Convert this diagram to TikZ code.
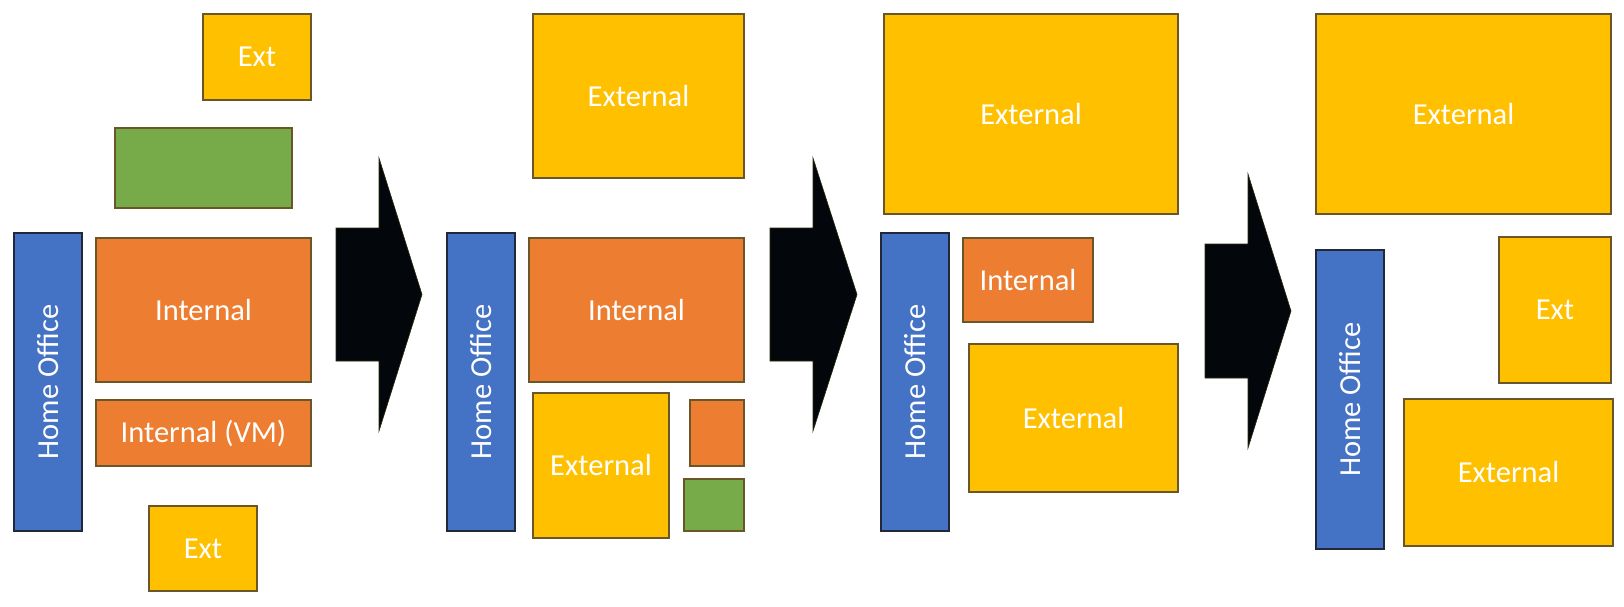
\documentclass[tikz,border=0pt]{standalone}
\usepackage{fontspec}
\setmainfont{Carlito}
\definecolor{cyel}{HTML}{FFC000}
\definecolor{corg}{HTML}{ED7D31}
\definecolor{cblu}{HTML}{4472C4}
\definecolor{cgrn}{HTML}{77AB4A}
\definecolor{cedge}{HTML}{6A5628}
\definecolor{cbedge}{HTML}{22283A}
\definecolor{carrow}{HTML}{03070B}
\newcommand\bx[7]{%
  \pgfmathsetmacro\bxw{#4-#2}\pgfmathsetmacro\bxh{#5-#3}%
  \pgfmathsetmacro\bxx{(#2+#4)/2}\pgfmathsetmacro\bxy{(#3+#5)/2}%
  \node[#6, minimum width=\bxw pt, minimum height=\bxh pt] (#1) at (\bxx,\bxy) {#7};}
\newcommand\hobx[5]{%
  \pgfmathsetmacro\bxw{#4-#2}\pgfmathsetmacro\bxh{#5-#3}%
  \pgfmathsetmacro\bxx{(#2+#4)/2}\pgfmathsetmacro\bxy{(#3+#5)/2}%
  \node[hobox, rotate=90, minimum width=\bxh pt, minimum height=\bxw pt] (#1) at (\bxx,\bxy) {Home Office};}
\tikzset{
  base/.style={rectangle, inner sep=0pt, outer sep=0pt, line width=1.1pt, text=white,
    font=\fontsize{30.5}{36}\selectfont},
  ybox/.style={base, fill=cyel, draw=cedge},
  obox/.style={base, fill=corg, draw=cedge},
  gbox/.style={base, fill=cgrn, draw=cedge},
  hobox/.style={base, fill=cblu, draw=cbedge},
  bigarrow/.style={fill=carrow, draw=carrow!70!olive, line width=0.6pt}
}
\begin{document}
\begin{tikzpicture}[x=1pt,y=-1pt]
\useasboundingbox (0,0) rectangle (1624,606);
% Panel 1
\bx{exta}{203}{14}{311}{100}{ybox}{Ext}
\bx{grna}{115}{128}{292}{208}{gbox}{}
\hobx{hoa}{14}{233}{82}{531}
\bx{inta}{96}{238}{311}{382}{obox}{Internal}
\bx{vma}{96}{400}{311}{466}{obox}{Internal (VM)}
\bx{extb}{149}{506}{257}{591}{ybox}{Ext}
% Arrow 1
\draw[bigarrow] (336,228) -- (379,228) -- (379,158) -- (422,294.5) -- (379,431) -- (379,361) -- (336,361) -- cycle;
% Panel 2
\bx{extc}{533}{14}{744}{178}{ybox}{External}
\hobx{hob}{447}{233}{515}{531}
\bx{intb}{529}{238}{744}{382}{obox}{Internal}
\bx{extd}{533}{393}{669}{538}{ybox}{External}
\bx{orgb}{690}{400}{744}{466}{obox}{}
\bx{grnb}{684}{479}{744}{531}{gbox}{}
% Arrow 2
\draw[bigarrow] (770,228) -- (813,228) -- (813,158) -- (857,294.5) -- (813,431) -- (813,361) -- (770,361) -- cycle;
% Panel 3
\bx{exte}{884}{14}{1178}{214}{ybox}{External}
\hobx{hoc}{881}{233}{949}{531}
\bx{intc}{963}{238}{1093}{322}{obox}{Internal}
\bx{extf}{969}{344}{1178}{492}{ybox}{External}
% Arrow 3
\draw[bigarrow] (1205,244) -- (1248,244) -- (1248,174) -- (1291,311) -- (1248,448) -- (1248,378) -- (1205,378) -- cycle;
% Panel 4
\bx{extg}{1316}{14}{1611}{214}{ybox}{External}
\hobx{hod}{1316}{250}{1384}{549}
\bx{exth}{1499}{237}{1611}{383}{ybox}{Ext}
\bx{exti}{1404}{399}{1613}{546}{ybox}{External}
\end{tikzpicture}
\end{document}
